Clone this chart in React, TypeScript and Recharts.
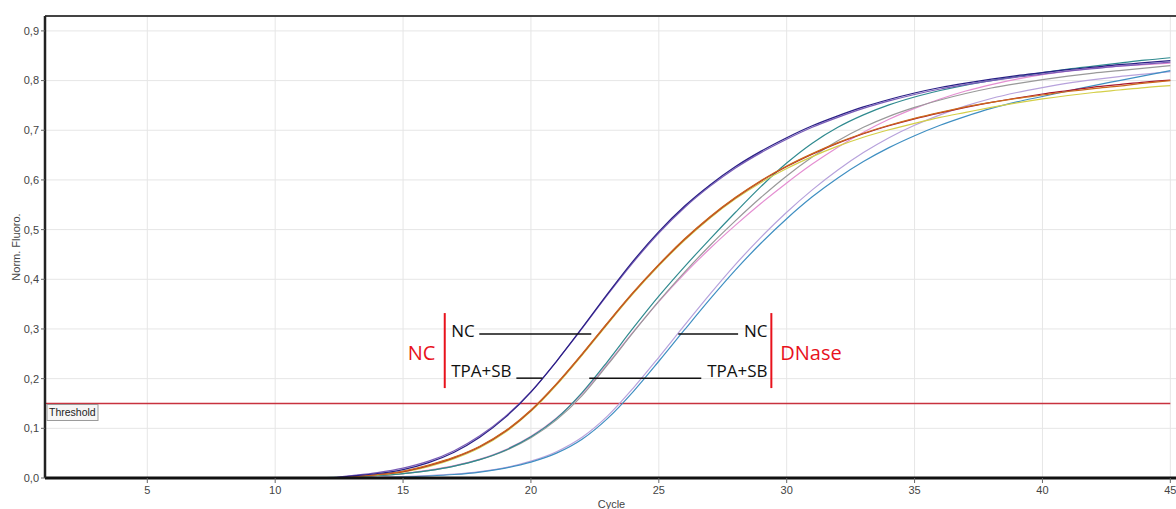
import React from 'react';
import { LineChart, Line, XAxis, YAxis, CartesianGrid, ReferenceLine, ReferenceDot } from 'recharts';

const cycles = [1,2,3,4,5,6,7,8,9,10,11,12,13,14,15,16,17,18,19,20,21,22,23,24,25,26,27,28,29,30,31,32,33,34,35,36,37,38,39,40,41,42,43,44,45];

const xTicks = [5, 10, 15, 20, 25, 30, 35, 40, 45];
const yTicks = [0, 0.1, 0.2, 0.3, 0.4, 0.5, 0.6, 0.7, 0.8, 0.9];
const thresholdValue = 0.15;

// NC / NC (navy, purple)
const ncNavy = [0,0,0,0,0,0,0,0,0,0,0,0,0.004,0.009,0.017,0.031,0.052,0.082,0.122,0.173,0.235,0.302,0.371,0.437,0.496,0.547,0.59,0.627,0.658,0.685,0.709,0.729,0.747,0.762,0.775,0.786,0.795,0.803,0.81,0.816,0.822,0.827,0.832,0.836,0.84];
const ncPurple = [0,0,0,0,0,0,0,0,0,0,0,0,0.005,0.011,0.02,0.034,0.055,0.085,0.124,0.174,0.235,0.301,0.369,0.434,0.493,0.544,0.587,0.624,0.655,0.682,0.706,0.726,0.744,0.759,0.772,0.783,0.792,0.8,0.807,0.813,0.819,0.824,0.829,0.833,0.837];
// NC / TPA+SB (orange, yellow, red)
const tpaOrange = [0,0,0,0,0,0,0,0,0,0,0,0,0.003,0.007,0.014,0.026,0.042,0.064,0.095,0.137,0.19,0.25,0.313,0.374,0.43,0.481,0.526,0.565,0.599,0.628,0.653,0.675,0.694,0.71,0.724,0.736,0.747,0.756,0.764,0.771,0.778,0.784,0.789,0.795,0.8];
const tpaYellow = [0,0,0,0,0,0,0,0,0,0,0,0,0.002,0.006,0.012,0.023,0.039,0.061,0.092,0.134,0.187,0.247,0.31,0.371,0.427,0.478,0.523,0.562,0.595,0.623,0.647,0.668,0.686,0.701,0.714,0.726,0.736,0.746,0.755,0.763,0.77,0.776,0.781,0.786,0.79];
const tpaRed = [0,0,0,0,0,0,0,0,0,0,0,0,0.003,0.007,0.013,0.025,0.041,0.063,0.094,0.136,0.189,0.249,0.312,0.373,0.429,0.48,0.525,0.564,0.598,0.627,0.652,0.674,0.693,0.709,0.723,0.735,0.746,0.756,0.765,0.773,0.78,0.787,0.792,0.797,0.801];
// DNase / NC (teal, grey, pink)
const dnNcTeal = [0,0,0,0,0,0,0,0,0,0,0,0.001,0.002,0.005,0.009,0.015,0.024,0.037,0.056,0.083,0.12,0.172,0.235,0.302,0.366,0.425,0.481,0.535,0.587,0.634,0.674,0.706,0.731,0.751,0.767,0.78,0.791,0.8,0.808,0.816,0.823,0.829,0.835,0.841,0.846];
const dnNcGrey = [0,0,0,0,0,0,0,0,0,0,0,0,0.002,0.005,0.009,0.015,0.024,0.037,0.055,0.081,0.117,0.166,0.228,0.293,0.356,0.414,0.468,0.518,0.565,0.608,0.646,0.679,0.706,0.728,0.746,0.761,0.774,0.785,0.794,0.802,0.809,0.815,0.82,0.825,0.83];
const dnNcPink = [0,0,0,0,0,0,0,0,0,0,0,0,0.002,0.005,0.009,0.016,0.025,0.038,0.057,0.084,0.121,0.17,0.23,0.294,0.355,0.411,0.462,0.509,0.553,0.594,0.632,0.666,0.696,0.722,0.744,0.763,0.779,0.792,0.803,0.812,0.819,0.825,0.829,0.832,0.835];
// DNase / TPA+SB (blue, lavender)
const dnTpaBlue = [0,0,0,0,0,0,0,0,0,0,0,0,0.001,0.001,0.002,0.004,0.007,0.012,0.02,0.032,0.05,0.078,0.12,0.174,0.235,0.298,0.36,0.419,0.473,0.522,0.566,0.604,0.637,0.665,0.689,0.71,0.728,0.744,0.757,0.768,0.779,0.79,0.8,0.81,0.82];
const dnTpaLavender = [0,0,0,0,0,0,0,0,0,0,0,0,0.001,0.002,0.003,0.005,0.008,0.013,0.021,0.034,0.053,0.082,0.125,0.181,0.243,0.307,0.37,0.43,0.485,0.535,0.58,0.62,0.655,0.685,0.71,0.731,0.749,0.764,0.776,0.786,0.795,0.802,0.808,0.813,0.818];

const series = [
  { key: 'dnTpaLavender', values: dnTpaLavender, color: '#b7a2dc' },
  { key: 'dnTpaBlue', values: dnTpaBlue, color: '#3f8fc2' },
  { key: 'dnNcPink', values: dnNcPink, color: '#e58fd2' },
  { key: 'dnNcGrey', values: dnNcGrey, color: '#999999' },
  { key: 'dnNcTeal', values: dnNcTeal, color: '#2f8a8f' },
  { key: 'tpaYellow', values: tpaYellow, color: '#d4cf48' },
  { key: 'tpaRed', values: tpaRed, color: '#a8172e' },
  { key: 'tpaOrange', values: tpaOrange, color: '#cc6a1c' },
  { key: 'ncPurple', values: ncPurple, color: '#7a5cb8' },
  { key: 'ncNavy', values: ncNavy, color: '#2a1f86' },
];

const data = cycles.map((c, i) => {
  const row: any = { cycle: c };
  series.forEach((s) => { row[s.key] = s.values[i]; });
  return row;
});

const RED = '#e8121c';
const BLACK = '#111';
const THRESH = '#c8323f';
const annFont = '"Open Sans", "Noto Sans", sans-serif';
const tickFont = '"Liberation Sans", Arial, sans-serif';

const txt = (label: string, color: string, size: number, anchor: string) => (p: any) => (
  <text x={p.cx} y={p.cy} fill={color} fontSize={size} fontFamily={annFont} textAnchor={anchor}>{label}</text>
);

export default function App() {
  return (
    <div style={{ position: 'absolute', left: 0, top: 0, width: 1176, height: 509, overflow: 'hidden', background: '#fff' }}>
      <LineChart width={1178} height={509} data={data} margin={{ top: 16, right: 0, left: 0, bottom: 0 }}>
        <CartesianGrid stroke="#e6e6e6" strokeWidth={1} />
        <XAxis
          dataKey="cycle"
          type="number"
          domain={[1, 45.3]}
          ticks={xTicks}
          allowDataOverflow
          height={31}
          axisLine={{ stroke: '#111', strokeWidth: 3 }}
          tickLine={{ stroke: '#666' }}
          tickSize={5}
          tickMargin={3}
          tick={{ fontSize: 11, fill: '#444', fontFamily: tickFont }}
          label={{ value: 'Cycle', position: 'insideBottom', offset: 1, fontSize: 11, fill: '#444', fontFamily: tickFont }}
        />
        <YAxis
          type="number"
          domain={[0, 0.93]}
          ticks={yTicks}
          allowDataOverflow
          width={45}
          axisLine={{ stroke: '#222', strokeWidth: 2.5 }}
          tickLine={{ stroke: '#666' }}
          tickSize={4}
          tickMargin={2}
          tickFormatter={(v: number) => v.toFixed(1).replace('.', ',')}
          tick={{ fontSize: 11, fill: '#444', fontFamily: tickFont }}
          label={{
            position: 'center',
            content: (props: any) => {
              const vb = props.viewBox || { x: 0, y: 16, width: 45, height: 462 };
              const cx = vb.x + 16;
              const cy = vb.y + vb.height / 2;
              return (
                <text x={cx} y={cy} transform={`rotate(-90 ${cx} ${cy})`} textAnchor="middle" dominantBaseline="central" fontSize={11} fill="#444" fontFamily={tickFont}>
                  Norm. Fluoro.
                </text>
              );
            },
          }}
        />
        <ReferenceLine y={0.93} stroke="#444" strokeWidth={2} />
        <ReferenceLine
          segment={[{ x: 1, y: thresholdValue }, { x: 45, y: thresholdValue }]}
          stroke={THRESH}
          strokeWidth={1.5}
          shape={(p: any) => (
            <line x1={p.x1} y1={p.y1} x2={p.x2} y2={p.y2} stroke={THRESH} strokeWidth={1.5} />
          )}
        />
        <ReferenceDot
          x={1}
          y={thresholdValue}
          shape={(p: any) => (
            <g>
              <rect x={p.cx + 2} y={p.cy + 1} width={51} height={16} fill="#f6f6f6" stroke="#9a9a9a" strokeWidth={1} />
              <text x={p.cx + 4} y={p.cy + 13} fontSize={10.5} fill="#222" fontFamily={tickFont}>Threshold</text>
            </g>
          )}
        />
        {series.map((s) => (
          <Line key={s.key} type="monotone" dataKey={s.key} stroke={s.color} strokeWidth={1.2} dot={false} isAnimationActive={false} />
        ))}
        {/* annotation brackets */}
        <ReferenceLine segment={[{ x: 16.63, y: 0.332 }, { x: 16.63, y: 0.181 }]} stroke={RED} strokeWidth={2} />
        <ReferenceLine segment={[{ x: 29.4, y: 0.332 }, { x: 29.4, y: 0.181 }]} stroke={RED} strokeWidth={2} />
        <ReferenceLine segment={[{ x: 17.98, y: 0.29 }, { x: 22.36, y: 0.29 }]} stroke={BLACK} strokeWidth={1.5} />
        <ReferenceLine segment={[{ x: 19.43, y: 0.201 }, { x: 20.45, y: 0.201 }]} stroke={BLACK} strokeWidth={1.5} />
        <ReferenceLine segment={[{ x: 25.76, y: 0.29 }, { x: 28.1, y: 0.29 }]} stroke={BLACK} strokeWidth={1.5} />
        <ReferenceLine segment={[{ x: 22.28, y: 0.201 }, { x: 26.66, y: 0.201 }]} stroke={BLACK} strokeWidth={1.5} />
        <ReferenceDot x={16.88} y={0.284} shape={txt('NC', BLACK, 17, 'start')} />
        <ReferenceDot x={16.88} y={0.203} shape={txt('TPA+SB', BLACK, 17, 'start')} />
        <ReferenceDot x={29.25} y={0.284} shape={txt('NC', BLACK, 17, 'end')} />
        <ReferenceDot x={29.25} y={0.203} shape={txt('TPA+SB', BLACK, 17, 'end')} />
        <ReferenceDot x={16.26} y={0.2376} shape={txt('NC', RED, 20, 'end')} />
        <ReferenceDot x={29.75} y={0.2376} shape={txt('DNase', RED, 20, 'start')} />
      </LineChart>
    </div>
  );
}
